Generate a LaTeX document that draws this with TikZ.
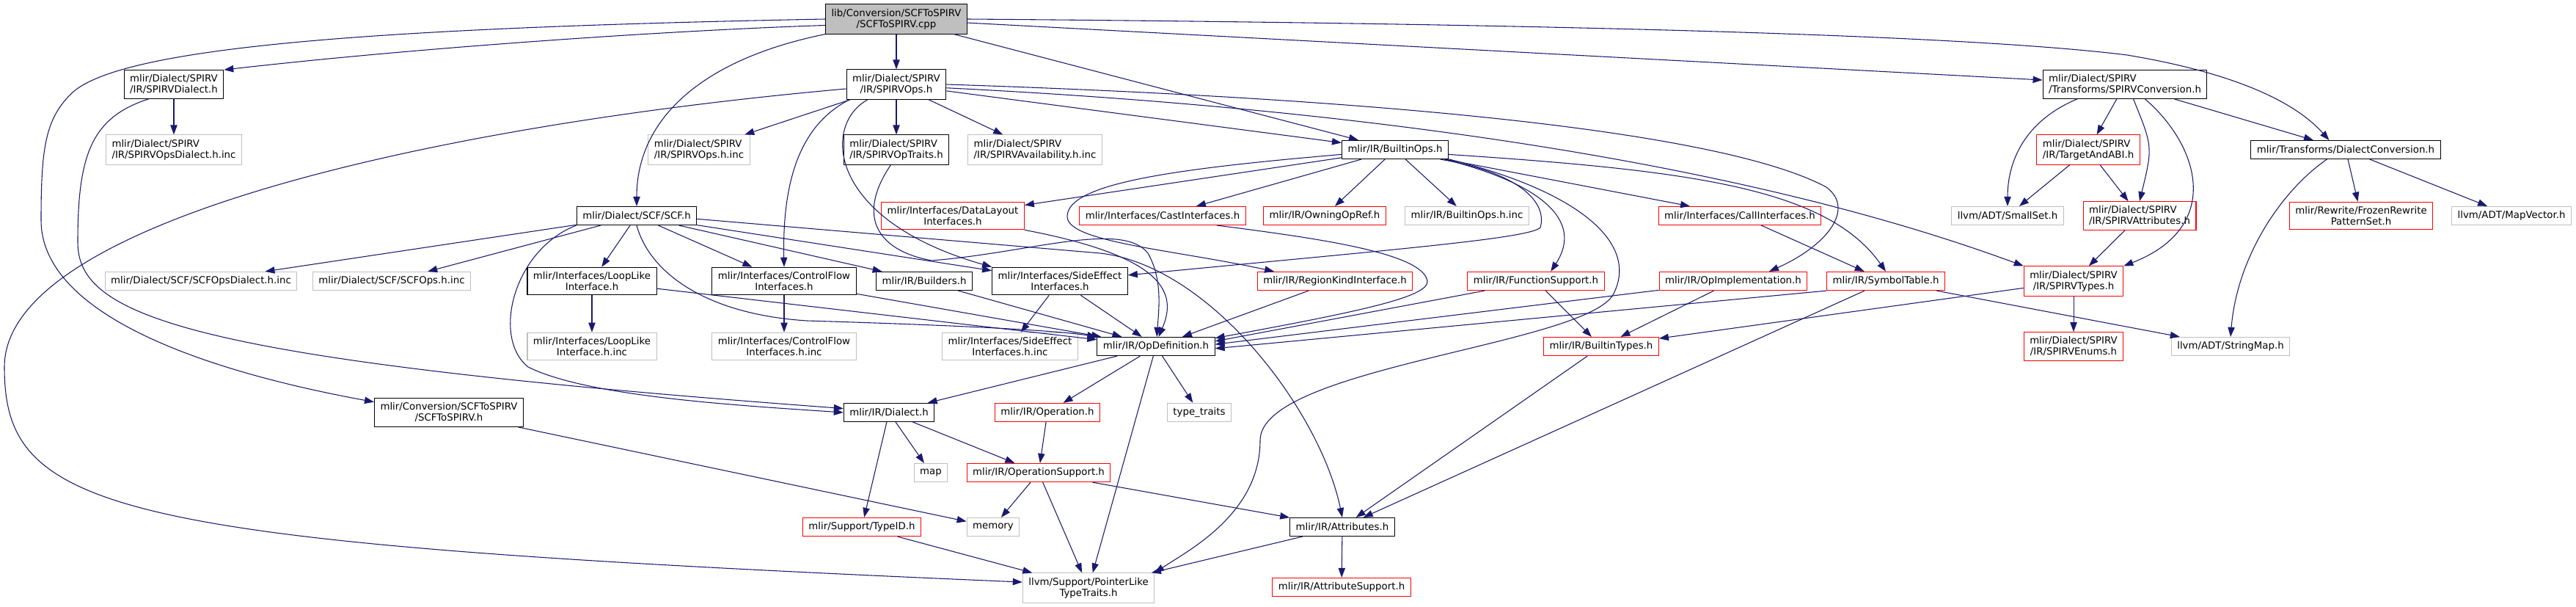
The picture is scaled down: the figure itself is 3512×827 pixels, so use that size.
\documentclass[tikz,border=0pt]{standalone}
\usepackage{fontspec}
\setmainfont{DejaVu Sans}
\usetikzlibrary{arrows.meta}
\definecolor{edgeblue}{HTML}{191970}
\definecolor{extgray}{HTML}{BFBFBF}
\begin{document}
\begin{tikzpicture}[
    x=0.75pt, y=0.75pt,
    box/.style={rectangle, draw, fill=white, line width=0.8pt, align=center,
        font=\fontsize{10pt}{11.25pt}\selectfont, inner xsep=6pt, inner ysep=4.6pt,
        minimum height=18.75pt},
    hdr/.style={box, draw=black},
    ext/.style={box, draw=extgray},
    trunc/.style={box, draw=red},
    cur/.style={box, draw=black, fill=extgray},
    dep/.style={draw=edgeblue, line width=0.8pt, -{Triangle[length=9.75pt,width=7pt]}}
    ]
    \useasboundingbox (0,0) rectangle (3512,-827);
    \node[cur] (root) at (1222,-26) {lib/Conversion/SCFToSPIRV\\/SCFToSPIRV.cpp};
    \node[hdr] (sdial) at (237,-115) {mlir/Dialect/SPIRV\\/IR/SPIRVDialect.h};
    \node[hdr] (sops) at (1222,-115) {mlir/Dialect/SPIRV\\/IR/SPIRVOps.h};
    \node[hdr, align=left] (sconv) at (2897,-115) {mlir/Dialect/SPIRV\\/Transforms/SPIRVConversion.h};
    \node[ext, align=left] (sopsdinc) at (237,-204) {mlir/Dialect/SPIRV\\/IR/SPIRVOpsDialect.h.inc};
    \node[ext, align=left] (sopsinc) at (953,-204) {mlir/Dialect/SPIRV\\/IR/SPIRVOps.h.inc};
    \node[hdr, align=left] (straits) at (1222,-204) {mlir/Dialect/SPIRV\\/IR/SPIRVOpTraits.h};
    \node[ext, align=left] (savail) at (1411,-204) {mlir/Dialect/SPIRV\\/IR/SPIRVAvailability.h.inc};
    \node[hdr] (bops) at (1902,-204) {mlir/IR/BuiltinOps.h};
    \node[trunc, align=left] (tabi) at (2847,-204) {mlir/Dialect/SPIRV\\/IR/TargetAndABI.h};
    \node[hdr] (dconv) at (3198,-204) {mlir/Transforms/DialectConversion.h};
    \node[hdr] (scf) at (868,-294) {mlir/Dialect/SCF/SCF.h};
    \node[trunc] (dlayout) at (1299,-294) {mlir/Interfaces/DataLayout\\Interfaces.h};
    \node[trunc] (cast) at (1585,-294) {mlir/Interfaces/CastInterfaces.h};
    \node[trunc] (owning) at (1806,-294) {mlir/IR/OwningOpRef.h};
    \node[ext] (bopsinc) at (2000,-294) {mlir/IR/BuiltinOps.h.inc};
    \node[trunc] (call) at (2372,-294) {mlir/Interfaces/CallInterfaces.h};
    \node[ext] (smallset) at (2737,-294) {llvm/ADT/SmallSet.h};
    \node[trunc, align=left] (sattr) at (2917,-294) {mlir/Dialect/SPIRV\\/IR/SPIRVAttributes.h};
    \node[trunc] (frozen) at (3219,-294) {mlir/Rewrite/FrozenRewrite\\PatternSet.h};
    \node[ext] (mapvec) at (3424,-294) {llvm/ADT/MapVector.h};
    \node[ext] (scfdinc) at (274,-383) {mlir/Dialect/SCF/SCFOpsDialect.h.inc};
    \node[ext] (scfinc) at (534,-383) {mlir/Dialect/SCF/SCFOps.h.inc};
    \node[hdr] (loop) at (807,-383) {mlir/Interfaces/LoopLike\\Interface.h};
    \node[hdr] (cflow) at (1069,-383) {mlir/Interfaces/ControlFlow\\Interfaces.h};
    \node[hdr] (builders) at (1260,-383) {mlir/IR/Builders.h};
    \node[hdr] (sideeff) at (1445,-383) {mlir/Interfaces/SideEffect\\Interfaces.h};
    \node[trunc] (region) at (1820,-383) {mlir/IR/RegionKindInterface.h};
    \node[trunc] (funcs) at (2094,-383) {mlir/IR/FunctionSupport.h};
    \node[trunc] (opimpl) at (2363,-383) {mlir/IR/OpImplementation.h};
    \node[trunc] (symtab) at (2571,-383) {mlir/IR/SymbolTable.h};
    \node[trunc] (stypes) at (2827,-383) {mlir/Dialect/SPIRV\\/IR/SPIRVTypes.h};
    \node[ext] (loopinc) at (807,-472) {mlir/Interfaces/LoopLike\\Interface.h.inc};
    \node[ext] (cflowinc) at (1069,-472) {mlir/Interfaces/ControlFlow\\Interfaces.h.inc};
    \node[ext] (sideinc) at (1377,-472) {mlir/Interfaces/SideEffect\\Interfaces.h.inc};
    \node[hdr] (opdef) at (1576,-472) {mlir/IR/OpDefinition.h};
    \node[trunc] (btypes) at (2183,-472) {mlir/IR/BuiltinTypes.h};
    \node[trunc] (senums) at (2827,-472) {mlir/Dialect/SPIRV\\/IR/SPIRVEnums.h};
    \node[ext] (strmap) at (3041,-472) {llvm/ADT/StringMap.h};
    \node[hdr] (scfconv) at (612,-562) {mlir/Conversion/SCFToSPIRV\\/SCFToSPIRV.h};
    \node[hdr] (dialect) at (1212,-562) {mlir/IR/Dialect.h};
    \node[trunc] (operation) at (1428,-562) {mlir/IR/Operation.h};
    \node[ext] (ttraits) at (1635,-562) {type\_traits};
    \node[ext] (stdmap) at (1269,-644) {map};
    \node[trunc] (opsupp) at (1416,-644) {mlir/IR/OperationSupport.h};
    \node[trunc] (typeid) at (1175,-718) {mlir/Support/TypeID.h};
    \node[ext] (stdmem) at (1354,-718) {memory};
    \node[hdr] (attrs) at (1830,-718) {mlir/IR/Attributes.h};
    \node[ext] (ptrlike) at (1484,-801) {llvm/Support/PointerLike\\TypeTraits.h};
    \node[trunc] (attrsupp) at (1829,-800) {mlir/IR/AttributeSupport.h};

    \draw[dep] (root.185) .. controls (900,-42) and (560,-66) .. (sdial.north east);
    \draw[dep] (root.west) .. controls (500,-38) and (170,-65) .. (100,-125)
        .. controls (62,-160) and (56,-200) .. (56,-300)
        .. controls (56,-420) and (250,-500) .. (scfconv.172);
    \draw[dep] (root.south west) .. controls (960,-80) and (868,-160) .. (scf.north);
    \draw[dep] (root) -- (sops);
    \draw[dep] (root) -- (bops);
    \draw[dep] (root) -- (sconv);
    \draw[dep] (root.east) .. controls (2200,-33) and (2700,-50) .. (2900,-75)
        .. controls (3050,-100) and (3130,-140) .. (dconv.150);

    \draw[dep] (sdial) -- (sopsdinc);
    \draw[dep] (sdial.210) .. controls (125,-160) and (106,-210) .. (106,-330)
        .. controls (106,-430) and (250,-490) .. (dialect.175);

    \draw[dep] (sops) -- (sopsinc);
    \draw[dep] (sops) -- (straits);
    \draw[dep] (sops) -- (savail);
    \draw[dep] (sops) -- (bops);
    \draw[dep] (sops.198) .. controls (1100,-165) and (1066,-230) .. (cflow.north);
    \draw[dep] (sops.208) .. controls (1120,-170) and (1128,-300) .. (sideeff.north west);
    \draw[dep] (sops.185) .. controls (600,-170) and (6,-300) .. (6,-500)
        .. controls (6,-700) and (150,-740) .. (ptrlike.175);
    \draw[dep] (sops.east) .. controls (1900,-135) and (2350,-180) .. (2490,-255)
        .. controls (2530,-285) and (2490,-335) .. (opimpl.15);
    \draw[dep] (sops.-4) .. controls (1900,-150) and (2400,-230) .. (stypes.north west);

    \draw[dep] (sconv.197) .. controls (2760,-165) and (2737,-220) .. (smallset.north);
    \draw[dep] (sconv) -- (tabi);
    \draw[dep] (sconv.300) .. controls (2935,-200) .. (sattr.north);
    \draw[dep] (sconv.324) .. controls (3000,-200) and (3030,-310) .. (stypes.north east);
    \draw[dep] (sconv) -- (dconv);
    \draw[dep] (tabi) -- (smallset);
    \draw[dep] (tabi) -- (sattr);
    \draw[dep] (dconv.207) .. controls (3110,-260) and (3050,-350) .. (strmap.north);
    \draw[dep] (dconv) -- (frozen);
    \draw[dep] (dconv) -- (mapvec);
    \draw[dep] (sattr) -- (stypes);
    \draw[dep] (stypes) -- (senums);
    \draw[dep] (stypes) -- (btypes);

    \draw[dep] (bops) -- (owning);
    \draw[dep] (bops) -- (bopsinc);
    \draw[dep] (bops) -- (call);
    \draw[dep] (bops) -- (dlayout);
    \draw[dep] (bops) -- (cast);
    \draw[dep] (bops.-5) .. controls (2300,-232) and (2490,-255) .. (symtab.north);
    \draw[dep] (bops.-11) .. controls (2100,-250) and (2160,-300) .. (funcs.33);
    \draw[dep] (bops.-12) .. controls (2070,-235) and (2110,-275) .. (2100,-310)
        .. controls (2085,-325) and (1900,-340) .. (sideeff.5);
    \draw[dep] (bops.-10) .. controls (2150,-260) and (2235,-330) .. (2200,-400)
        .. controls (2165,-470) and (1718,-500) .. (1718,-600)
        .. controls (1718,-700) and (1620,-750) .. (ptrlike.north east);
    \draw[dep] (bops.185) .. controls (1600,-230) and (1455,-250) .. (1455,-295)
        .. controls (1455,-330) and (1600,-340) .. (region.171);

    \draw[dep] (cast.-10) .. controls (1800,-325) and (1940,-345) .. (1946,-383)
        .. controls (1948,-405) and (1850,-425) .. (opdef.8);
    \draw[dep] (funcs) -- (opdef.5);
    \draw[dep] (funcs) -- (btypes);
    \draw[dep] (opimpl) -- (opdef.2);
    \draw[dep] (opimpl) -- (btypes);
    \draw[dep] (symtab.south west) -- (opdef.-2);
    \draw[dep] (symtab) -- (attrs);
    \draw[dep] (symtab) -- (strmap);
    \draw[dep] (call) -- (symtab);
    \draw[dep] (region) -- (opdef);
    \draw[dep] (dlayout.south east) .. controls (1590,-350) and (1605,-400) .. (opdef.75);
    \draw[dep] (straits.250) .. controls (1170,-290) and (1190,-340) .. (1270,-355)
        .. controls (1400,-345) and (1530,-300) .. (1565,-345)
        .. controls (1585,-380) and (1580,-420) .. (opdef.85);

    \draw[dep] (scf) -- (scfdinc);
    \draw[dep] (scf) -- (scfinc);
    \draw[dep] (scf) -- (loop);
    \draw[dep] (scf) -- (cflow);
    \draw[dep] (scf) -- (builders);
    \draw[dep] (scf) -- (sideeff);
    \draw[dep] (scf.south west) .. controls (700,-340) and (670,-460) .. (720,-500)
        .. controls (800,-540) and (1000,-552) .. (dialect.west);
    \draw[dep] (scf.south) .. controls (885,-370) and (960,-428) .. (1100,-437)
        .. controls (1300,-443) and (1440,-450) .. (opdef.north west);
    \draw[dep] (scf.-3) -- (1500,-345) .. controls (1650,-362) and (1800,-560) .. (attrs.north);

    \draw[dep] (loop) -- (loopinc);
    \draw[dep] (loop) -- (opdef);
    \draw[dep] (cflow) -- (cflowinc);
    \draw[dep] (cflow) -- (opdef);
    \draw[dep] (builders) -- (opdef);
    \draw[dep] (sideeff) -- (sideinc);
    \draw[dep] (sideeff) -- (opdef);

    \draw[dep] (opdef) -- (dialect);
    \draw[dep] (opdef) -- (operation);
    \draw[dep] (opdef) -- (ttraits);
    \draw[dep] (opdef) -- (ptrlike);
    \draw[dep] (dialect) -- (typeid);
    \draw[dep] (dialect) -- (stdmap);
    \draw[dep] (dialect) -- (opsupp);
    \draw[dep] (operation) -- (opsupp);
    \draw[dep] (opsupp) -- (stdmem);
    \draw[dep] (opsupp) -- (ptrlike);
    \draw[dep] (opsupp) -- (attrs);
    \draw[dep] (typeid) -- (ptrlike);
    \draw[dep] (scfconv) -- (stdmem);
    \draw[dep] (btypes) -- (attrs);
    \draw[dep] (attrs) -- (ptrlike);
    \draw[dep] (attrs) -- (attrsupp);
\end{tikzpicture}
\end{document}
